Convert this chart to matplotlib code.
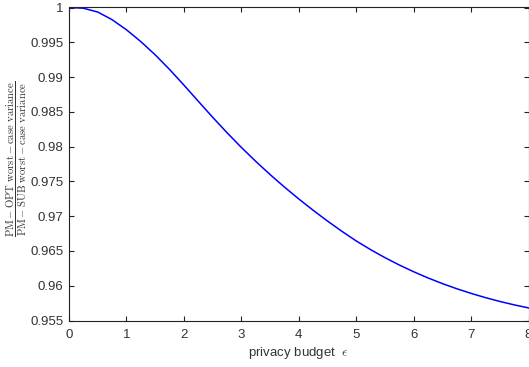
import matplotlib
matplotlib.use("Agg")
import matplotlib.pyplot as plt

# privacy budget epsilon vs. ratio of worst-case variances
eps = [0.0, 0.25, 0.5, 0.75, 1.0, 1.25, 1.5, 1.75, 2.0, 2.25, 2.5, 2.75,
       3.0, 3.25, 3.5, 3.75, 4.0, 4.25, 4.5, 4.75, 5.0, 5.25, 5.5, 5.75,
       6.0, 6.25, 6.5, 6.75, 7.0, 7.25, 7.5, 7.75, 8.0]
ratio = [1.00000, 0.99990, 0.99935, 0.99825, 0.99680, 0.99510, 0.99320, 0.99110,
         0.98885, 0.98653, 0.98423, 0.98201, 0.97989, 0.97789, 0.97599, 0.97419,
         0.97248, 0.97085, 0.96930, 0.96783, 0.96644, 0.96519, 0.96404, 0.96298,
         0.96201, 0.96112, 0.96031, 0.95957, 0.95890, 0.95829, 0.95774, 0.95725,
         0.95681]

x_ticks = [0, 1, 2, 3, 4, 5, 6, 7, 8]
y_ticks = [0.955, 0.96, 0.965, 0.97, 0.975, 0.98, 0.985, 0.99, 0.995, 1.0]
y_tick_labels = ["0.955", "0.96", "0.965", "0.97", "0.975", "0.98",
                 "0.985", "0.99", "0.995", "1"]

plt.rcParams["font.family"] = ["Liberation Sans", "DejaVu Sans"]
plt.rcParams["mathtext.fontset"] = "cm"

text_color = "#333333"

fig = plt.figure(figsize=(5.29, 3.67), dpi=100)
ax = fig.add_axes([69 / 529, 1 - 320.5 / 367, 459.5 / 529, 313 / 367])

ax.plot(eps, ratio, color="#0000ff", linewidth=1.1)

ax.set_xlim(0, 8)
ax.set_ylim(0.955, 1.0)
ax.set_xticks(x_ticks)
ax.set_xticklabels([str(t) for t in x_ticks])
ax.set_yticks(y_ticks)
ax.set_yticklabels(y_tick_labels)

ax.tick_params(direction="in", length=3.5, width=0.8, top=True, right=True,
               labelsize=9.5, labelcolor=text_color, color="#222222")
ax.tick_params(axis="x", pad=6)
ax.tick_params(axis="y", pad=4)
for spine in ax.spines.values():
    spine.set_linewidth(0.8)
    spine.set_color("#222222")

fig.text(298.7 / 529, 1 - 353 / 367, r"privacy budget  $\epsilon$",
         ha="center", va="center", fontsize=9.5, color=text_color)

fig.text(17 / 529, 1 - 159 / 367,
         r"$\frac{\mathrm{PM-OPT\ worst-case\ variance}}{\mathrm{PM-SUB\ worst-case\ variance}}$",
         rotation=90, ha="center", va="center", fontsize=11, color=text_color)

fig.savefig("out.png", dpi=100)
